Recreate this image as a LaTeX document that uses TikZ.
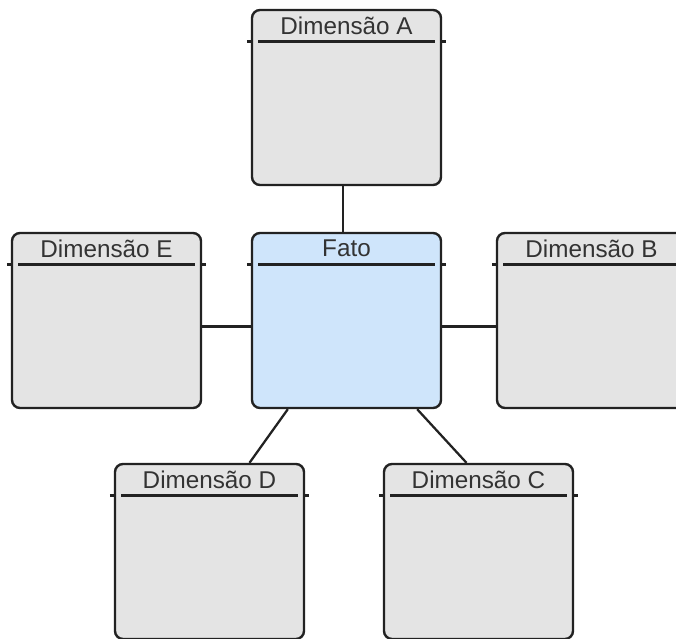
\documentclass[tikz,border=0pt]{standalone}
\usepackage{fontspec}
\setmainfont{Liberation Sans}
\usetikzlibrary{positioning,calc}

\definecolor{dimfill}{HTML}{E4E4E4}
\definecolor{fatofill}{HTML}{CFE5FB}
\definecolor{edgecol}{HTML}{222222}
\definecolor{titlecol}{HTML}{333333}

\begin{document}
\begin{tikzpicture}[
  x=0.75pt, y=-0.75pt,
  font=\fontsize{18.2}{21}\selectfont,
  tablebox/.style={rectangle, draw=edgecol, line width=1.8pt, fill=dimfill, rounded corners=6pt, minimum width=141.75pt, minimum height=131.25pt, inner sep=0pt},
  factbox/.style={tablebox, fill=fatofill},
  title/.style={text=titlecol, inner sep=0pt},
  link/.style={draw=edgecol, line width=1.7pt},
]
\useasboundingbox (0,0) rectangle (676,639);
\clip (0,0) rectangle (676,639);

% tabelas
\node[tablebox] (dim-a) at (346.5,97.5) {};
\node[factbox]  (fato)  at (346.5,320.5) {};
\node[tablebox] (dim-e) at (106.5,320.5) {};
\node[tablebox] (dim-b) at (591.5,320.5) {};
\node[tablebox] (dim-d) at (209.5,551.5) {};
\node[tablebox] (dim-c) at (478.5,551.5) {};

% titulos
\node[title] at ([yshift=-12.5pt]dim-a.north) {Dimensão A};
\node[title] at ([yshift=-12.5pt]fato.north) {Fato};
\node[title] at ([yshift=-12.5pt]dim-e.north) {Dimensão E};
\node[title] at ([yshift=-12.5pt]dim-b.north) {Dimensão B};
\node[title] at ([yshift=-12.5pt]dim-d.north) {Dimensão D};
\node[title] at ([yshift=-12.5pt]dim-c.north) {Dimensão C};

% linha do cabecalho
\foreach \t in {dim-a,fato,dim-e,dim-b,dim-d,dim-c}{
  \draw[edgecol, line width=1.7pt] ([xshift=5.5pt,yshift=-24.5pt]\t.north west) -- ([xshift=-5.5pt,yshift=-24.5pt]\t.north east);
  \draw[edgecol, line width=1.7pt] ([xshift=-3pt,yshift=-24.5pt]\t.north west) -- ([yshift=-24.5pt]\t.north west);
  \draw[edgecol, line width=1.7pt] ([yshift=-24.5pt]\t.north east) -- ([xshift=3pt,yshift=-24.5pt]\t.north east);
}

% ligacoes
\draw[link] ([xshift=-2.5pt]dim-a.south) -- ([xshift=-2.5pt]fato.north);
\draw[link] ([yshift=-4.5pt]dim-e.east) -- ([yshift=-4.5pt]fato.west);
\draw[link] ([yshift=-4.5pt]fato.east) -- ([yshift=-4.5pt]dim-b.west);
\draw[link] ([xshift=-44pt]fato.south) -- ([xshift=30pt]dim-d.north);
\draw[link] ([xshift=53pt]fato.south) -- ([xshift=-9pt]dim-c.north);

\end{tikzpicture}
\end{document}
